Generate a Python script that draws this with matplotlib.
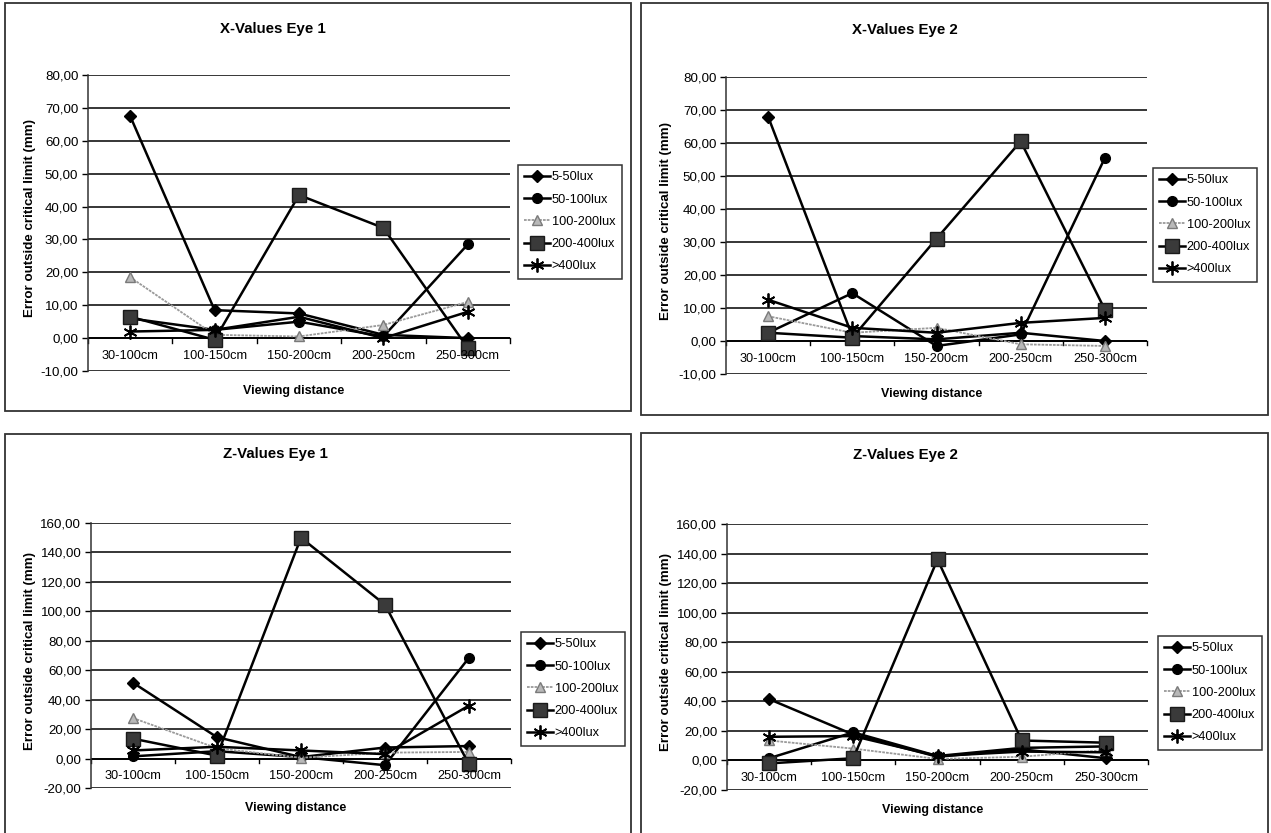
import matplotlib
matplotlib.use("Agg")
import matplotlib.pyplot as plt
from matplotlib.patches import Rectangle
from matplotlib.ticker import FuncFormatter, MultipleLocator
import numpy as np

plt.rcParams['font.family'] = ['Liberation Sans', 'DejaVu Sans']

categories = ["30-100cm", "100-150cm", "150-200cm", "200-250cm", "250-300cm"]
series_names = ["5-50lux", "50-100lux", "100-200lux", "200-400lux", ">400lux"]

# X-Values Eye 1
x_eye1_5_50 = [67.5, 8.5, 7.5, 1.0, 0.0]
x_eye1_50_100 = [6.0, 2.5, 5.0, 0.5, 28.5]
x_eye1_100_200 = [18.5, 1.0, 0.5, 4.0, 11.0]
x_eye1_200_400 = [6.5, -0.5, 43.5, 33.5, -3.0]
x_eye1_400 = [2.0, 2.5, 6.5, 0.0, 8.0]

# X-Values Eye 2
x_eye2_5_50 = [68.0, 1.5, 0.5, 2.5, 0.0]
x_eye2_50_100 = [2.5, 14.5, -1.5, 2.0, 55.5]
x_eye2_100_200 = [7.5, 2.5, 4.0, -1.0, -1.5]
x_eye2_200_400 = [2.5, 1.0, 31.0, 60.5, 9.5]
x_eye2_400 = [12.5, 4.0, 2.5, 5.5, 7.0]

# Z-Values Eye 1
z_eye1_5_50 = [51.5, 14.5, 1.0, 7.5, 8.5]
z_eye1_50_100 = [1.5, 5.0, 1.0, -4.5, 68.5]
z_eye1_100_200 = [27.5, 7.0, 0.5, 4.0, 4.5]
z_eye1_200_400 = [13.5, 2.0, 150.0, 104.5, -4.0]
z_eye1_400 = [5.5, 8.0, 5.5, 3.0, 36.0]

# Z-Values Eye 2
z_eye2_5_50 = [41.5, 17.5, 2.5, 7.5, 1.5]
z_eye2_50_100 = [1.5, 19.0, 3.0, 8.5, 9.5]
z_eye2_100_200 = [13.5, 8.0, 1.0, 2.5, 7.0]
z_eye2_200_400 = [-2.0, 1.5, 136.0, 13.5, 12.0]
z_eye2_400 = [16.0, 16.5, 3.0, 6.0, 5.5]

panels = [
    dict(title="X-Values Eye 1", ylabel="Error outside critical limit (mm)",
         data=[x_eye1_5_50, x_eye1_50_100, x_eye1_100_200, x_eye1_200_400, x_eye1_400],
         ylim=(-10, 80), step=10, title_xy=(273, 29),
         border=(5, 3, 631, 411), axes=(88, 75, 510, 371), legend=(518, 165)),
    dict(title="X-Values Eye 2", ylabel="Error outside critical limit (mm)",
         data=[x_eye2_5_50, x_eye2_50_100, x_eye2_100_200, x_eye2_200_400, x_eye2_400],
         ylim=(-10, 80), step=10, title_xy=(905, 30),
         border=(641, 3, 1268, 415), axes=(726, 77, 1147, 374), legend=(1153, 168)),
    dict(title="Z-Values Eye 1", ylabel="Error outside critical limit (mm)",
         data=[z_eye1_5_50, z_eye1_50_100, z_eye1_100_200, z_eye1_200_400, z_eye1_400],
         ylim=(-20, 160), step=20, title_xy=(275, 454),
         border=(5, 434, 631, 840), axes=(91, 523, 511, 788), legend=(521, 632)),
    dict(title="Z-Values Eye 2", ylabel="Error outside critical limit (mm)",
         data=[z_eye2_5_50, z_eye2_50_100, z_eye2_100_200, z_eye2_200_400, z_eye2_400],
         ylim=(-20, 160), step=20, title_xy=(905, 455),
         border=(641, 433, 1268, 840), axes=(727, 524, 1148, 790), legend=(1158, 636)),
]

styles = [
    dict(color="black", lw=1.8, marker="D", ms=6, mfc="black", mec="black"),
    dict(color="black", lw=1.8, marker="o", ms=7, mfc="black", mec="black"),
    dict(color="#9a9a9a", lw=1.3, marker="^", ms=6.5, mfc="#b8b8b8", mec="#7a7a7a", ls=(0, (1.5, 0.6))),
    dict(color="black", lw=1.8, marker="s", ms=9.5, mfc="#3a3a3a", mec="#1a1a1a"),
    dict(color="black", lw=1.8, marker=(6, 2, 0), ms=10, mfc="black", mec="black", mew=1.3),
]

W, H = 1271, 833
fig = plt.figure(figsize=(W / 100, H / 100), dpi=100)

def fx(x):
    return x / W

def fy(y):
    return 1 - y / H

fmt = FuncFormatter(lambda v, p: ("%.2f" % v).replace(".", ","))

for p in panels:
    bx0, by0, bx1, by1 = p["border"]
    fig.patches.append(Rectangle((fx(bx0), fy(by1)), fx(bx1 - bx0), (by1 - by0) / H,
                                 transform=fig.transFigure, fill=False,
                                 edgecolor="#333333", lw=1.3))
    ax0, ay0, ax1, ay1 = p["axes"]
    ax = fig.add_axes([fx(ax0), fy(ay1), fx(ax1 - ax0), (ay1 - ay0) / H])
    xs = np.arange(len(categories))
    for vals, name, st in zip(p["data"], series_names, styles):
        ax.plot(xs, vals, label=name, **st)
    ax.set_xlim(-0.5, len(categories) - 0.5)
    ax.set_ylim(*p["ylim"])
    ax.yaxis.set_major_locator(MultipleLocator(p["step"]))
    ax.yaxis.set_major_formatter(fmt)
    ax.grid(axis="y", color="black", lw=1.1)
    ax.set_axisbelow(True)
    for s in ["top", "right", "bottom"]:
        ax.spines[s].set_visible(False)
    ax.spines["left"].set_color("#333333")
    ax.spines["left"].set_linewidth(1.1)
    ax.axhline(0, color="black", lw=1.3, zorder=1.5)
    ax.set_xticks([])
    span = p["ylim"][1] - p["ylim"][0]
    for i in range(len(categories) + 1):
        ax.plot([i - 0.5, i - 0.5], [0, -0.015 * span],
                color="black", lw=1.0, clip_on=False, zorder=1.5)
    for i, c in enumerate(categories):
        ax.annotate(c, xy=(i, 0), xytext=(0, -8.5), textcoords="offset points",
                    ha="center", va="top", fontsize=9.2)
    ax.tick_params(axis="y", labelsize=9.6, length=4, width=1.0, direction="out", pad=3)
    tx, ty = p["title_xy"]
    fig.text(fx(tx), fy(ty), p["title"], fontsize=10.8,
             fontweight="bold", ha="center", va="center")
    fig.text(fx(bx0 + 25), fy((ay0 + ay1) / 2 - 5), p["ylabel"], rotation=90,
             fontsize=9.6, fontweight="bold", ha="center", va="center")
    fig.text(fx((ax0 + ax1) / 2 - 5), fy(ay1 + 20), "Viewing distance",
             fontsize=9.0, fontweight="bold", ha="center", va="center")
    lx, ly = p["legend"]
    leg = ax.legend(loc="upper left", bbox_to_anchor=(fx(lx), fy(ly)),
                    bbox_transform=fig.transFigure, frameon=True, fancybox=False,
                    edgecolor="black", fontsize=9.2, handlelength=2.0,
                    labelspacing=0.8, borderpad=0.5, handletextpad=0.15,
                    borderaxespad=0)
    leg.get_frame().set_linewidth(1.1)

fig.savefig("out.png", dpi=100)
